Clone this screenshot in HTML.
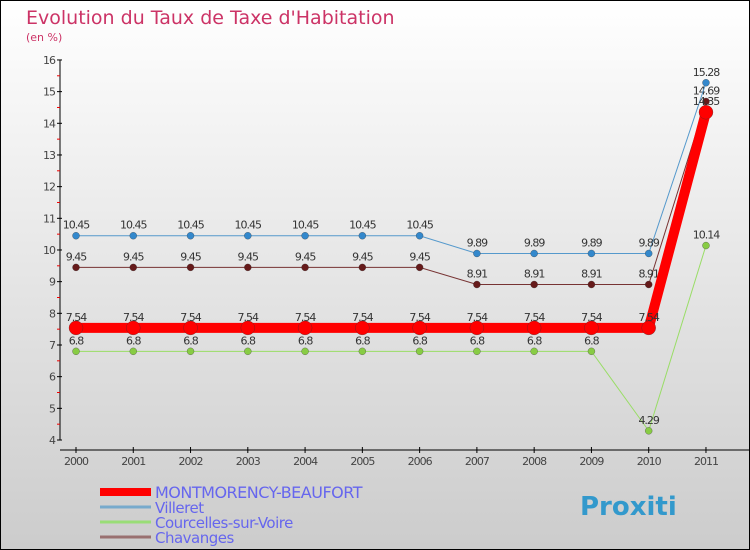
<!DOCTYPE html>
<html><head><meta charset="utf-8"><style>
body{margin:0}
svg{display:block;font-family:"DejaVu Sans","Liberation Sans",sans-serif}
</style></head><body>
<svg width="750" height="550" xmlns="http://www.w3.org/2000/svg">
<defs><linearGradient id="bg" x1="0" y1="0" x2="0" y2="1"><stop offset="0" stop-color="#ffffff"/><stop offset="1" stop-color="#cccccc"/></linearGradient></defs>
<rect x="0.5" y="0.5" width="749" height="549" fill="url(#bg)" stroke="#000"/>
<text x="26" y="24" font-size="19" fill="#cc3366">Evolution du Taux de Taxe d'Habitation</text>
<text x="26" y="41" font-size="11" fill="#cc3366">(en %)</text>
<g id="axes"></g><g id="series"></g><g id="legend"></g>
</svg>
<script>
const years=["2000","2001","2002","2003","2004","2005","2006","2007","2008","2009","2010","2011"];
const montmorency=[7.54,7.54,7.54,7.54,7.54,7.54,7.54,7.54,7.54,7.54,7.54,14.35];
const villeret=[10.45,10.45,10.45,10.45,10.45,10.45,10.45,9.89,9.89,9.89,9.89,15.28];
const courcelles=[6.8,6.8,6.8,6.8,6.8,6.8,6.8,6.8,6.8,6.8,4.29,10.14];
const chavanges=[9.45,9.45,9.45,9.45,9.45,9.45,9.45,8.91,8.91,8.91,8.91,14.69];
const yTicks=[4,5,6,7,8,9,10,11,12,13,14,15,16];
const NS="http://www.w3.org/2000/svg";
const X=i=>76+i*57.27, Y=v=>440-(v-4)*31.67;
function mk(t,a,p){const e=document.createElementNS(NS,t);for(const k in a)e.setAttribute(k,a[k]);p.appendChild(e);return e;}
const ax=document.getElementById('axes');
let l=mk('line',{x1:60,y1:60,x2:60,y2:440,stroke:'#000'},ax);


l=mk('line',{x1:60,y1:450,x2:750,y2:450,stroke:'#000'},ax);


yTicks.forEach(v=>{
 mk('line',{x1:57,y1:Y(v),x2:62,y2:Y(v),stroke:'#000'},ax);
 if(v<16)mk('line',{x1:57,y1:Y(v+0.5),x2:60,y2:Y(v+0.5),stroke:'#e00'},ax);
 const t=mk('text',{x:55,y:Y(v)+4,'font-size':11,'text-anchor':'end',fill:'#444','letter-spacing':'-1'},ax);
 t.textContent=v;
 
 
});
years.forEach((y,i)=>{
 mk('line',{x1:X(i),y1:447,x2:X(i),y2:453,stroke:'#000'},ax);
 const t=mk('text',{x:X(i),y:465,'font-size':11,'text-anchor':'middle',fill:'#444','letter-spacing':'-1'},ax);
 t.textContent=y;
 
 
});
const sg=document.getElementById('series');
function series(d,col,w,r,ptcol,name,labels){
 const g=mk('g',{},sg);
 
 
 mk('polyline',{points:d.map((v,i)=>X(i)+','+Y(v)).join(' '),fill:'none',stroke:col,'stroke-width':w},g);
 d.forEach((v,i)=>{
  const c=mk('circle',{cx:X(i),cy:Y(v),r:r,fill:ptcol,stroke:'#333','stroke-width':0.3},g);
  
  
  if(labels){const t=mk('text',{x:X(i),y:Y(v)-7,'font-size':11,'text-anchor':'middle',fill:'#333','letter-spacing':'-1'},g);t.textContent=v;}
 });
}
series(courcelles,'#99dd66',1,3.5,'#88cc44','series-courcelles',true);
series(chavanges,'#773333',1,3.5,'#661a1a','series-chavanges',true);
series(villeret,'#5599cc',1,3.5,'#3388cc','series-villeret',true);
series(montmorency,'#ff0000',10,7,'#ff0000','series-montmorency',true);
const lg=document.getElementById('legend');
[['MONTMORENCY-BEAUFORT','#ff0000',8,16],['Villeret','#77aacc',3,15],['Courcelles-sur-Voire','#99dd77',3,15],['Chavanges','#997070',3,15]].forEach((e,i)=>{
 const yy=492+i*15;
 const g=mk('g',{},lg);
 
 
 mk('line',{x1:100,y1:yy,x2:151,y2:yy,stroke:e[1],'stroke-width':e[2]},g);
 const t=mk('text',{x:155,y:yy+6,'font-size':e[3],fill:'#6666ee','letter-spacing':'-0.5'},g);
 t.textContent=e[0];
});
const p=mk('text',{x:580,y:515,'font-size':26,'font-weight':'bold',fill:'#3399cc'},lg);
p.textContent='Proxiti';


</script>
</body></html>
